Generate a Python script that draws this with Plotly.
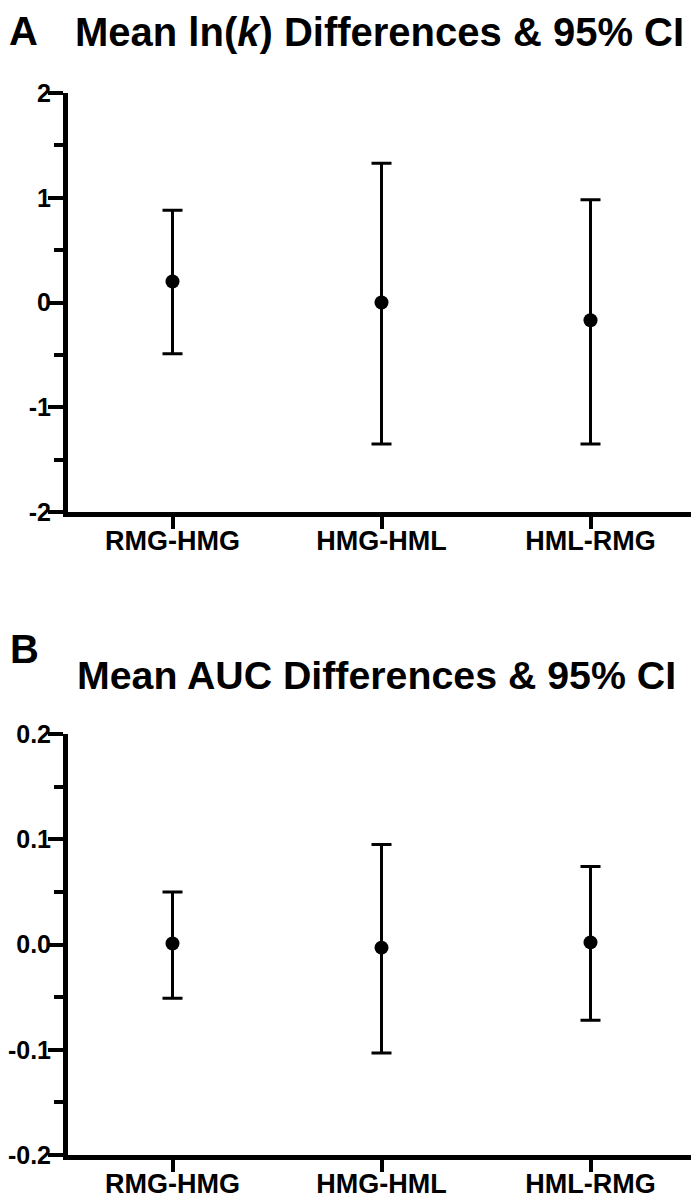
"""Mean differences with 95% CI - two stacked panels."""

import plotly.graph_objects as go

categories = ["RMG-HMG", "HMG-HML", "HML-RMG"]

# panel A: ln(k) differences
lnk_mean = [0.20, 0.00, -0.17]
lnk_low = [-0.49, -1.35, -1.35]
lnk_high = [0.88, 1.33, 0.98]
lnk_ticks = [-2, -1, 0, 1, 2]
lnk_ticktext = ["-2", "-1", "0", "1", "2"]

# panel B: AUC differences
auc_mean = [0.001, -0.003, 0.002]
auc_low = [-0.051, -0.103, -0.072]
auc_high = [0.050, 0.095, 0.074]
auc_ticks = [-0.2, -0.1, 0.0, 0.1, 0.2]
auc_ticktext = ["-0.2", "-0.1", "0.0", "0.1", "0.2"]

# the page body has an 8px margin, so the figure is drawn 8px in from the corner
OFF = 8
W, H = 699 - OFF, 1199 - OFF
FONT = "Liberation Sans, Arial, sans-serif"


def px_x(x):
    return (x - OFF) / W


def px_y(y):
    return 1 - (y - OFF) / H


def ci_trace(mean, low, high, xa, ya):
    return go.Scatter(
        x=categories,
        y=mean,
        mode="markers",
        marker=dict(color="black", size=14, symbol="circle"),
        error_y=dict(
            type="data",
            symmetric=False,
            array=[h - m for h, m in zip(high, mean)],
            arrayminus=[m - lo for m, lo in zip(mean, low)],
            color="black",
            thickness=3,
            width=10,
        ),
        xaxis=xa,
        yaxis=ya,
        showlegend=False,
        hoverinfo="skip",
    )


fig = go.Figure()
fig.add_trace(ci_trace(lnk_mean, lnk_low, lnk_high, "x", "y"))
fig.add_trace(ci_trace(auc_mean, auc_low, auc_high, "x2", "y2"))

xdom = [px_x(68), px_x(695)]
xcommon = dict(
    type="category",
    range=[-0.5, 2.5],
    showline=True,
    linewidth=5,
    linecolor="black",
    ticks="outside",
    ticklen=12,
    tickwidth=4,
    tickcolor="black",
    tickfont=dict(family=FONT, size=27, color="black", weight="bold"),
    ticklabelstandoff=-11,
    showgrid=False,
    zeroline=False,
    automargin=False,
    fixedrange=True,
)
ycommon = dict(
    showline=True,
    linewidth=5,
    linecolor="black",
    ticks="outside",
    ticklen=15,
    tickwidth=4,
    tickcolor="black",
    tickfont=dict(family=FONT, size=25, color="black", weight="bold"),
    ticklabelstandoff=-8,
    showgrid=False,
    zeroline=False,
    automargin=False,
    fixedrange=True,
)

fig.update_layout(
    width=W,
    height=H,
    margin=dict(l=0, r=0, t=0, b=0),
    paper_bgcolor="white",
    plot_bgcolor="white",
    xaxis=dict(domain=xdom, anchor="y", **xcommon),
    yaxis=dict(
        domain=[px_y(512), px_y(93)],
        anchor="x",
        range=[-2, 2],
        tickmode="array",
        tickvals=lnk_ticks,
        ticktext=lnk_ticktext,
        minor=dict(ticks="outside", ticklen=9, tickwidth=4, tickcolor="black", dtick=0.5, tick0=0, showgrid=False),
        **ycommon,
    ),
    xaxis2=dict(domain=xdom, anchor="y2", **xcommon),
    yaxis2=dict(
        domain=[px_y(1155), px_y(734)],
        anchor="x2",
        range=[-0.2, 0.2],
        tickmode="array",
        tickvals=auc_ticks,
        ticktext=auc_ticktext,
        minor=dict(ticks="outside", ticklen=9, tickwidth=4, tickcolor="black", dtick=0.05, tick0=0, showgrid=False),
        **ycommon,
    ),
)

annotations = [
    ("A", 7, 31, 40),
    ("Mean ln(<i>k</i>) Differences & 95% CI", 73, 32, 40),
    ("B", 8, 648.5, 40),
    ("Mean AUC Differences & 95% CI", 75, 674.5, 39.3),
]
for text, x0, yc, size in annotations:
    fig.add_annotation(
        text=text,
        x=px_x(x0),
        y=px_y(yc),
        xref="paper",
        yref="paper",
        xanchor="left",
        yanchor="middle",
        showarrow=False,
        font=dict(family=FONT, size=size, color="black", weight="bold"),
    )

fig.write_html("out.html")
